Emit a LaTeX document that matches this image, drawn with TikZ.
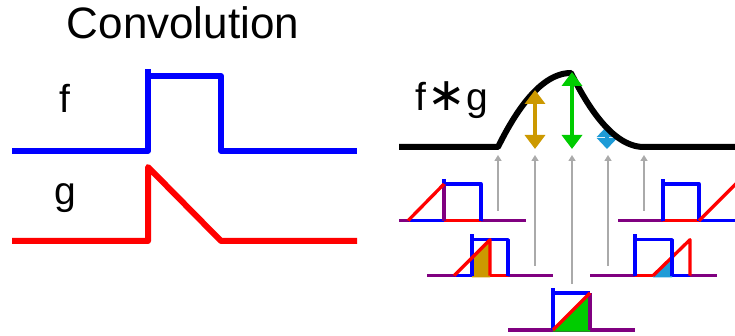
\documentclass[tikz,border=0pt]{standalone}
\usepackage{fontspec}
\setmainfont{Liberation Sans}
\newfontfamily\symfont{DejaVu Sans}
\usetikzlibrary{arrows.meta}
\definecolor{fblue}{HTML}{0000FF}
\definecolor{gred}{HTML}{FF0000}
\definecolor{mixpurple}{HTML}{800080}
\definecolor{goldc}{HTML}{CC9900}
\definecolor{greenc}{HTML}{00CC00}
\definecolor{cyanc}{HTML}{1E9BD7}
\definecolor{grayc}{HTML}{AAAAAA}
\begin{document}
\begin{tikzpicture}[x=1pt,y=-1pt,line join=round,
  mainline/.style={line width=6pt},
  smallline/.style={line width=3.3pt},
  probe/.style={draw=grayc,line width=1.5pt,-{Triangle[width=7pt,length=6pt]}},
  dbl/.style={line width=4pt,{Triangle[width=20pt,length=14pt]}-{Triangle[width=20pt,length=14pt]}},
  lbl/.style={anchor=base,inner sep=0pt}]
\useasboundingbox (0,0) rectangle (735,336);
% titles and labels
\node[lbl,font=\fontsize{44}{50}\selectfont] (title) at (183,38.5) {Convolution};
\node[lbl,font=\fontsize{39}{44}\selectfont] (flab) at (65,113) {f};
\node[lbl,font=\fontsize{39}{44}\selectfont] (glab) at (65,205) {g};
\node[lbl,font=\fontsize{39}{44}\selectfont] (fglab) at (452,111) {f{\symfont\fontsize{46}{50}\selectfont\kern1pt∗\kern1pt}g};
% f
\draw[fblue,mainline] (12,150.7) -- (148,150.7) -- (148,69);
\draw[fblue,mainline] (148,76) -- (221,76) -- (221,150.7) -- (357,150.7);
% g
\draw[gred,mainline] (12,241) -- (148,241) -- (148,167) -- (221,241) -- (357,241);
% conv curve
\draw[cyanc,dbl,{Triangle[width=20pt,length=11pt]}-{Triangle[width=20pt,length=11pt]}] (607,149) -- (607,126);
\draw[black,mainline] (399,147) -- (498,147)
  -- plot[domain=0:1,samples=40] ({498+73*\x},{147-74*(2*\x-\x*\x)})
  -- plot[domain=0:1,samples=40] ({571+73*\x},{147-74*(1-\x)*(1-\x)})
  -- (735,147);
\draw[goldc,dbl] (535,149) -- (535,90);
\draw[greenc,dbl] (572,149) -- (572,72);
% probes
\coordinate (p1) at (498,211); \coordinate (q1) at (498,155);
\coordinate (p2) at (535,266); \coordinate (q2) at (535,155);
\coordinate (p3) at (572,284); \coordinate (q3) at (572,155);
\coordinate (p4) at (608,266); \coordinate (q4) at (608,155);
\coordinate (p5) at (644,211); \coordinate (q5) at (644,155);
\foreach \i in {1,...,5} {\draw[probe] (p\i) -- (q\i);}
\begin{scope}[smallline]
% diagram 1
\draw[mixpurple] (399,220.7) -- (526,220.7);
\draw[fblue] (408,220.7) -- (444,220.7);
\draw[gred] (444,220.7) -- (481,220.7);
\draw[fblue] (444,179) -- (444,184) -- (481,184) -- (481,220.7);
\draw[mixpurple] (444,184) -- (444,220.7);
\draw[gred] (408,220.7) -- (444,184);
% diagram 2
\draw[mixpurple] (427,275.7) -- (553,275.7);
\draw[fblue] (454,275.7) -- (472,275.7);
\draw[gred] (490,275.7) -- (508,275.7);
\fill[goldc] (472,277.3) -- (472,257.7) -- (490,239.7) -- (490,277.3) -- cycle;
\draw[fblue] (472,275.7) -- (472,234) (472,239.7) -- (508,239.7) -- (508,275.7);
\draw[gred] (454,275.7) -- (490,239.7) -- (490,275.7);
% diagram 3
\draw[mixpurple] (508,330) -- (635,330);
\fill[greenc] (553,331.6) -- (553,330) -- (590,293) -- (590,331.6) -- cycle;
\draw[fblue] (553,330) -- (553,288) (553,293) -- (590,293);
\draw[mixpurple] (590,293) -- (590,330);
\draw[gred] (553,330) -- (590,293);
% diagram 4
\draw[mixpurple] (590,275.7) -- (717,275.7);
\draw[gred] (635,275.7) -- (653,275.7);
\draw[fblue] (672,275.7) -- (690,275.7);
\fill[cyanc] (653,277.3) -- (653,275.7) -- (672,257.2) -- (672,277.3) -- cycle;
\draw[gred] (653,275.7) -- (690,239.7) -- (690,275.7);
\draw[fblue] (635,275.7) -- (635,234) (635,239.7) -- (672,239.7) -- (672,275.7);
% diagram 5
\draw[mixpurple] (618,220.7) -- (735,220.7);
\draw[gred] (663,220.7) -- (699,220.7);
\draw[fblue] (699,220.7) -- (735,220.7);
\draw[fblue] (663,220.7) -- (663,179) (663,184) -- (699,184) -- (699,220.7);
\draw[gred] (699,220.7) -- (737,182.7);
\end{scope}
\end{tikzpicture}
\end{document}
